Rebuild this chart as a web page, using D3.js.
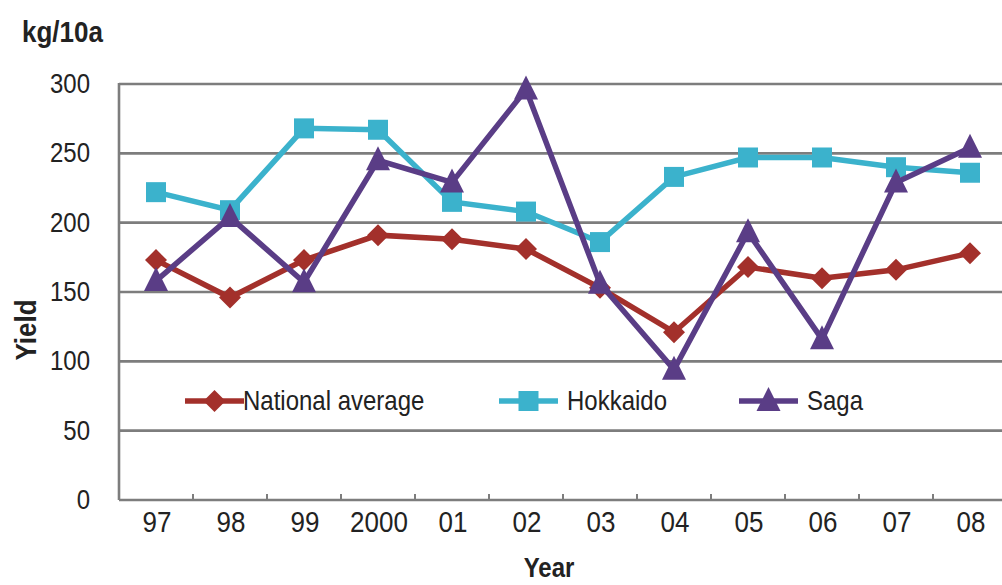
<!DOCTYPE html>
<html>
<head>
<meta charset="utf-8">
<script src="https://cdn.jsdelivr.net/npm/d3@7"></script>
<style>
  html, body { margin: 0; padding: 0; background: #fff; }
  svg { display: block; font-family: "Liberation Sans", Arial, sans-serif; }
</style>
</head>
<body>
<svg id="chart" width="1002" height="585"></svg>
<script>
// Rice yield per 10a, 1997–2008
const years = ["97", "98", "99", "2000", "01", "02", "03", "04", "05", "06", "07", "08"];
const nationalAverage = [173, 146, 173, 191, 188, 181, 153, 121, 168, 160, 166, 178];
const hokkaido = [222, 209, 268, 267, 215, 208, 186, 233, 247, 247, 240, 236];
const saga = [158, 204, 157, 245, 229, 296, 156, 94, 193, 116, 229, 254];
const yTicks = [0, 50, 100, 150, 200, 250, 300];

const series = [
  { name: "National average", values: nationalAverage, color: "#a3302b", marker: "diamond", legendX: 185, textX: 243 },
  { name: "Hokkaido", values: hokkaido, color: "#3bb2cc", marker: "square", legendX: 499, textX: 567 },
  { name: "Saga", values: saga, color: "#5a3d86", marker: "triangle", legendX: 739, textX: 807 }
];

const svg = d3.select("#chart");
const plotLeft = 119, plotBottom = 500, plotTop = 84;

const x = d3.scaleBand().domain(years).range([plotLeft, plotLeft + 74 * years.length]);
const y = d3.scaleLinear().domain([0, 300]).range([plotBottom, plotTop]);

const textColor = "#222";
const STRETCH = 1.12;

function label(g, txt, tx, ty, opts = {}) {
  return g.append("text")
    .attr("transform", `translate(${tx},${ty}) ${opts.rotate ? "rotate(-90)" : ""} scale(1,${STRETCH})`)
    .attr("text-anchor", opts.anchor || "start")
    .attr("font-size", opts.size || 25)
    .attr("font-weight", opts.bold ? "bold" : "normal")
    .attr("fill", textColor)
    .text(txt);
}

// Horizontal gridlines
svg.append("g")
  .selectAll("line")
  .data(yTicks.filter(d => d > 0))
  .join("line")
  .attr("x1", plotLeft).attr("x2", 1002)
  .attr("y1", d => y(d)).attr("y2", d => y(d))
  .attr("stroke", "#7d7d7d").attr("stroke-width", 2.6);

// Axes
const axisG = svg.append("g");
axisG.append("line")
  .attr("x1", plotLeft).attr("x2", plotLeft).attr("y1", plotTop - 1).attr("y2", plotBottom)
  .attr("stroke", "#7d7d7d").attr("stroke-width", 2.6);
axisG.append("line")
  .attr("x1", plotLeft).attr("x2", 1002).attr("y1", plotBottom).attr("y2", plotBottom)
  .attr("stroke", "#7d7d7d").attr("stroke-width", 2.6);

// Category separator ticks on the x axis
axisG.selectAll(".xtick")
  .data(years.slice(1))
  .join("line")
  .attr("class", "xtick")
  .attr("x1", d => x(d)).attr("x2", d => x(d))
  .attr("y1", plotBottom).attr("y2", plotBottom - 6)
  .attr("stroke", "#7d7d7d").attr("stroke-width", 2);

// Y tick labels
yTicks.forEach(t => {
  label(svg, String(t), 90, y(t) + 9, { anchor: "end", size: 24 });
});

// X tick labels
years.forEach(yr => {
  label(svg, yr, x(yr) + x.bandwidth() / 2 + 1, 532, { anchor: "middle", size: 26 });
});

// Axis titles
label(svg, "kg/10a", 22, 42, { bold: true, size: 26 });
label(svg, "Yield", 36, 330, { bold: true, size: 26, rotate: true, anchor: "middle" });
label(svg, "Year", 549, 577, { bold: true, size: 24, anchor: "middle" });

// Marker shapes
function markerPath(type) {
  if (type === "diamond") return "M0,-11 L11,0 L0,11 L-11,0 Z";
  if (type === "square") return "M-10,-10 L10,-10 L10,10 L-10,10 Z";
  return "M0,-14 L12,10 L-12,10 Z";
}

const line = d3.line()
  .x((d, i) => x(years[i]) + x.bandwidth() / 2)
  .y(d => y(d));

series.forEach(s => {
  const g = svg.append("g");
  g.append("path")
    .datum(s.values)
    .attr("d", line)
    .attr("fill", "none")
    .attr("stroke", s.color)
    .attr("stroke-width", 5.5)
    .attr("stroke-linejoin", "miter");
  g.selectAll("path.mk")
    .data(s.values)
    .join("path")
    .attr("class", "mk")
    .attr("d", markerPath(s.marker))
    .attr("transform", (d, i) => `translate(${x(years[i]) + x.bandwidth() / 2},${y(d)})`)
    .attr("fill", s.color);
});

// Legend
const legendY = 401;
series.forEach(s => {
  const g = svg.append("g");
  g.append("line")
    .attr("x1", s.legendX).attr("x2", s.legendX + 59)
    .attr("y1", legendY).attr("y2", legendY)
    .attr("stroke", s.color).attr("stroke-width", 5.5);
  g.append("path")
    .attr("d", markerPath(s.marker))
    .attr("transform", `translate(${s.legendX + 29.5},${legendY})`)
    .attr("fill", s.color);
  label(g, s.name, s.textX, legendY + 9, { size: 24 });
});
</script>
</body>
</html>
